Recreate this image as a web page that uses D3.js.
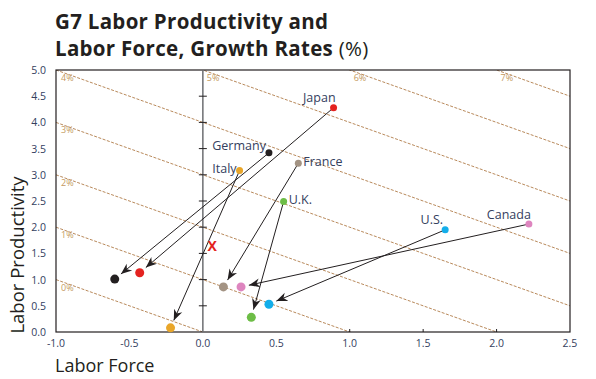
<!DOCTYPE html>
<html>
<head>
<meta charset="utf-8">
<script src="https://cdn.jsdelivr.net/npm/d3@7"></script>
<style>
  body { margin: 0; background: #fff; }
  #chart { width: 596px; height: 379px; }
  text { font-family: "Open Sans", sans-serif; }
</style>
</head>
<body>
<div id="chart"></div>
<script>

/* DATA: growth rates for the G7, earlier period -> later period */
const countries = ["Japan", "Germany", "Italy", "France", "U.K.", "U.S.", "Canada"];
const colors = ["#e42320", "#231f20", "#e9a62a", "#a39383", "#6dbd46", "#14aeea", "#de85bf"];
const forceFrom = [0.89, 0.45, 0.25, 0.65, 0.55, 1.65, 2.22];
const prodFrom = [4.28, 3.42, 3.08, 3.22, 2.49, 1.95, 2.06];
const forceTo = [-0.43, -0.60, -0.22, 0.14, 0.33, 0.45, 0.26];
const prodTo = [1.13, 1.01, 0.08, 0.86, 0.28, 0.53, 0.86];

const xTicks = [-1.0, -0.5, 0.0, 0.5, 1.0, 1.5, 2.0, 2.5];
const yTicks = [0.0, 0.5, 1.0, 1.5, 2.0, 2.5, 3.0, 3.5, 4.0, 4.5, 5.0];
const totals = [0, 1, 2, 3, 4, 5, 6, 7];   // iso-lines: labor force + productivity

const width = 596, height = 379;
const svg = d3.select("#chart").append("svg")
    .attr("width", width)
    .attr("height", height);

/* SCALES */
const x = d3.scaleLinear().domain([-1, 2.5]).range([56, 570]);
const y = d3.scaleLinear().domain([0, 5]).range([332, 70]);

/* TITLE */
const title = svg.append("text")
    .attr("x", 55)
    .attr("fill", "#231f20")
    .style("font-size", "20.5px")
    .style("letter-spacing", "0.3px")
    .style("font-weight", 700);
title.append("tspan").attr("x", 55).attr("y", 29).text("G7 Labor Productivity and");
title.append("tspan").attr("x", 55).attr("y", 56).text("Labor Force, Growth Rates ");
title.append("tspan").style("font-weight", 400).text("(%)");

/* ISO-GROWTH LINES (clipped to the frame) */
svg.append("clipPath").attr("id", "plot")
    .append("rect")
    .attr("x", x(-1)).attr("y", y(5))
    .attr("width", x(2.5) - x(-1)).attr("height", y(0) - y(5));

const iso = svg.append("g").attr("clip-path", "url(#plot)");
iso.selectAll("line")
    .data(totals)
    .enter()
    .append("line")
        .attr("x1", d => x(-1))
        .attr("y1", d => y(d + 1))
        .attr("x2", d => x(d + 1))
        .attr("y2", d => y(-1))
        .attr("stroke", "#b98a5c")
        .attr("stroke-width", 1)
        .attr("stroke-dasharray", "3,1.5");

// labels sit where each line enters the frame (left edge or top edge)
svg.append("g").selectAll("text")
    .data(totals)
    .enter()
    .append("text")
        .attr("x", d => d <= 4 ? x(-1) + 5 : x(d - 5) + 4)
        .attr("y", d => d <= 4 ? y(d + 1) + 11 : y(5) + 11)
        .attr("fill", "#c49a5e")
        .style("font-size", "9px")
        .text(d => d + "%");

/* FRAME */
svg.append("rect")
    .attr("x", x(-1)).attr("y", y(5))
    .attr("width", x(2.5) - x(-1)).attr("height", y(0) - y(5))
    .attr("fill", "none")
    .attr("stroke", "#231f20")
    .attr("stroke-width", 1.2);

/* ZERO LINE WITH TICKS */
svg.append("line")
    .attr("x1", x(0)).attr("x2", x(0))
    .attr("y1", y(5)).attr("y2", y(0))
    .attr("stroke", "#6d6e71")
    .attr("stroke-width", 1.5);

svg.append("g").selectAll("line")
    .data(yTicks.filter(d => d > 0 && d < 5))
    .enter()
    .append("line")
        .attr("x1", x(0) - 4).attr("x2", x(0) + 4)
        .attr("y1", d => y(d)).attr("y2", d => y(d))
        .attr("stroke", "#231f20");

svg.append("g").selectAll("line")
    .data(xTicks.filter(d => d > 0.5 && d < 2.5))
    .enter()
    .append("line")
        .attr("x1", d => x(d)).attr("x2", d => x(d))
        .attr("y1", y(0)).attr("y2", y(0) - 3)
        .attr("stroke", "#231f20");

/* TICK LABELS */
svg.append("g").selectAll("text")
    .data(yTicks)
    .enter()
    .append("text")
        .attr("x", x(-1) - 10)
        .attr("y", d => y(d) + 4)
        .attr("text-anchor", "end")
        .attr("fill", "#34405e")
        .style("font-size", "10.5px")
        .text(d => d.toFixed(1));

svg.append("g").selectAll("text")
    .data(xTicks)
    .enter()
    .append("text")
        .attr("x", d => x(d))
        .attr("y", y(0) + 15)
        .attr("text-anchor", "middle")
        .attr("fill", "#34405e")
        .style("font-size", "10.5px")
        .text(d => d.toFixed(1));

/* AXIS TITLES */
svg.append("text")
    .attr("x", 55)
    .attr("y", 372)
    .attr("fill", "#231f20")
    .style("font-size", "18px")
    .text("Labor Force");

svg.append("text")
    .attr("transform", "translate(24," + 255 + ") rotate(-90)")
    .attr("text-anchor", "middle")
    .attr("fill", "#231f20")
    .style("font-size", "18.5px")
    .text("Labor Productivity");

/* ARROWS */
svg.append("defs").append("marker")
    .attr("id", "head")
    .attr("viewBox", "0 -5 10 10")
    .attr("refX", 10)
    .attr("refY", 0)
    .attr("markerWidth", 11)
    .attr("markerHeight", 11)
    .attr("markerUnits", "userSpaceOnUse")
    .attr("orient", "auto")
    .append("path")
        .attr("d", "M0,-4L10,0L0,4L3,0Z")
        .attr("fill", "#231f20");

const moves = countries.map((c, i) => {
    let x1 = x(forceFrom[i]), y1 = y(prodFrom[i]);
    let x2 = x(forceTo[i]), y2 = y(prodTo[i]);
    let len = Math.hypot(x2 - x1, y2 - y1);
    let k = (len - 8) / len;
    return { x1: x1, y1: y1, x2: x1 + (x2 - x1) * k, y2: y1 + (y2 - y1) * k };
});

svg.append("g").selectAll("line")
    .data(moves)
    .enter()
    .append("line")
        .attr("x1", d => d.x1).attr("y1", d => d.y1)
        .attr("x2", d => d.x2).attr("y2", d => d.y2)
        .attr("stroke", "#231f20")
        .attr("stroke-width", 1)
        .attr("marker-end", "url(#head)");

/* POINTS */
svg.append("g").selectAll("circle")
    .data(countries)
    .enter()
    .append("circle")
        .attr("cx", (d, i) => x(forceFrom[i]))
        .attr("cy", (d, i) => y(prodFrom[i]))
        .attr("r", 3.5)
        .attr("fill", (d, i) => colors[i]);

svg.append("g").selectAll("circle")
    .data(countries)
    .enter()
    .append("circle")
        .attr("cx", (d, i) => x(forceTo[i]))
        .attr("cy", (d, i) => y(prodTo[i]))
        .attr("r", 4.5)
        .attr("fill", (d, i) => colors[i]);

/* COUNTRY LABELS */
const labelPos = {
    "Japan":   { dx: 2, dy: -6, anchor: "end" },
    "Germany": { dx: -3, dy: -3, anchor: "end" },
    "Italy":   { dx: -3, dy: 2, anchor: "end" },
    "France":  { dx: 5, dy: 3, anchor: "start" },
    "U.K.":    { dx: 5, dy: 2, anchor: "start" },
    "U.S.":    { dx: -2, dy: -6, anchor: "end" },
    "Canada":  { dx: 2, dy: -5, anchor: "end" }
};

svg.append("g").selectAll("text")
    .data(countries)
    .enter()
    .append("text")
        .attr("x", (d, i) => x(forceFrom[i]) + labelPos[d].dx)
        .attr("y", (d, i) => y(prodFrom[i]) + labelPos[d].dy)
        .attr("text-anchor", d => labelPos[d].anchor)
        .attr("fill", "#34405e")
        .style("font-size", "12.5px")
        .text(d => d);

/* THE RED X */
svg.append("text")
    .attr("x", x(0.063))
    .attr("y", y(1.64) + 5)
    .attr("text-anchor", "middle")
    .attr("fill", "#e42320")
    .style("font-size", "14px")
    .style("font-weight", 700)
    .text("X");

</script>
</body>
</html>
